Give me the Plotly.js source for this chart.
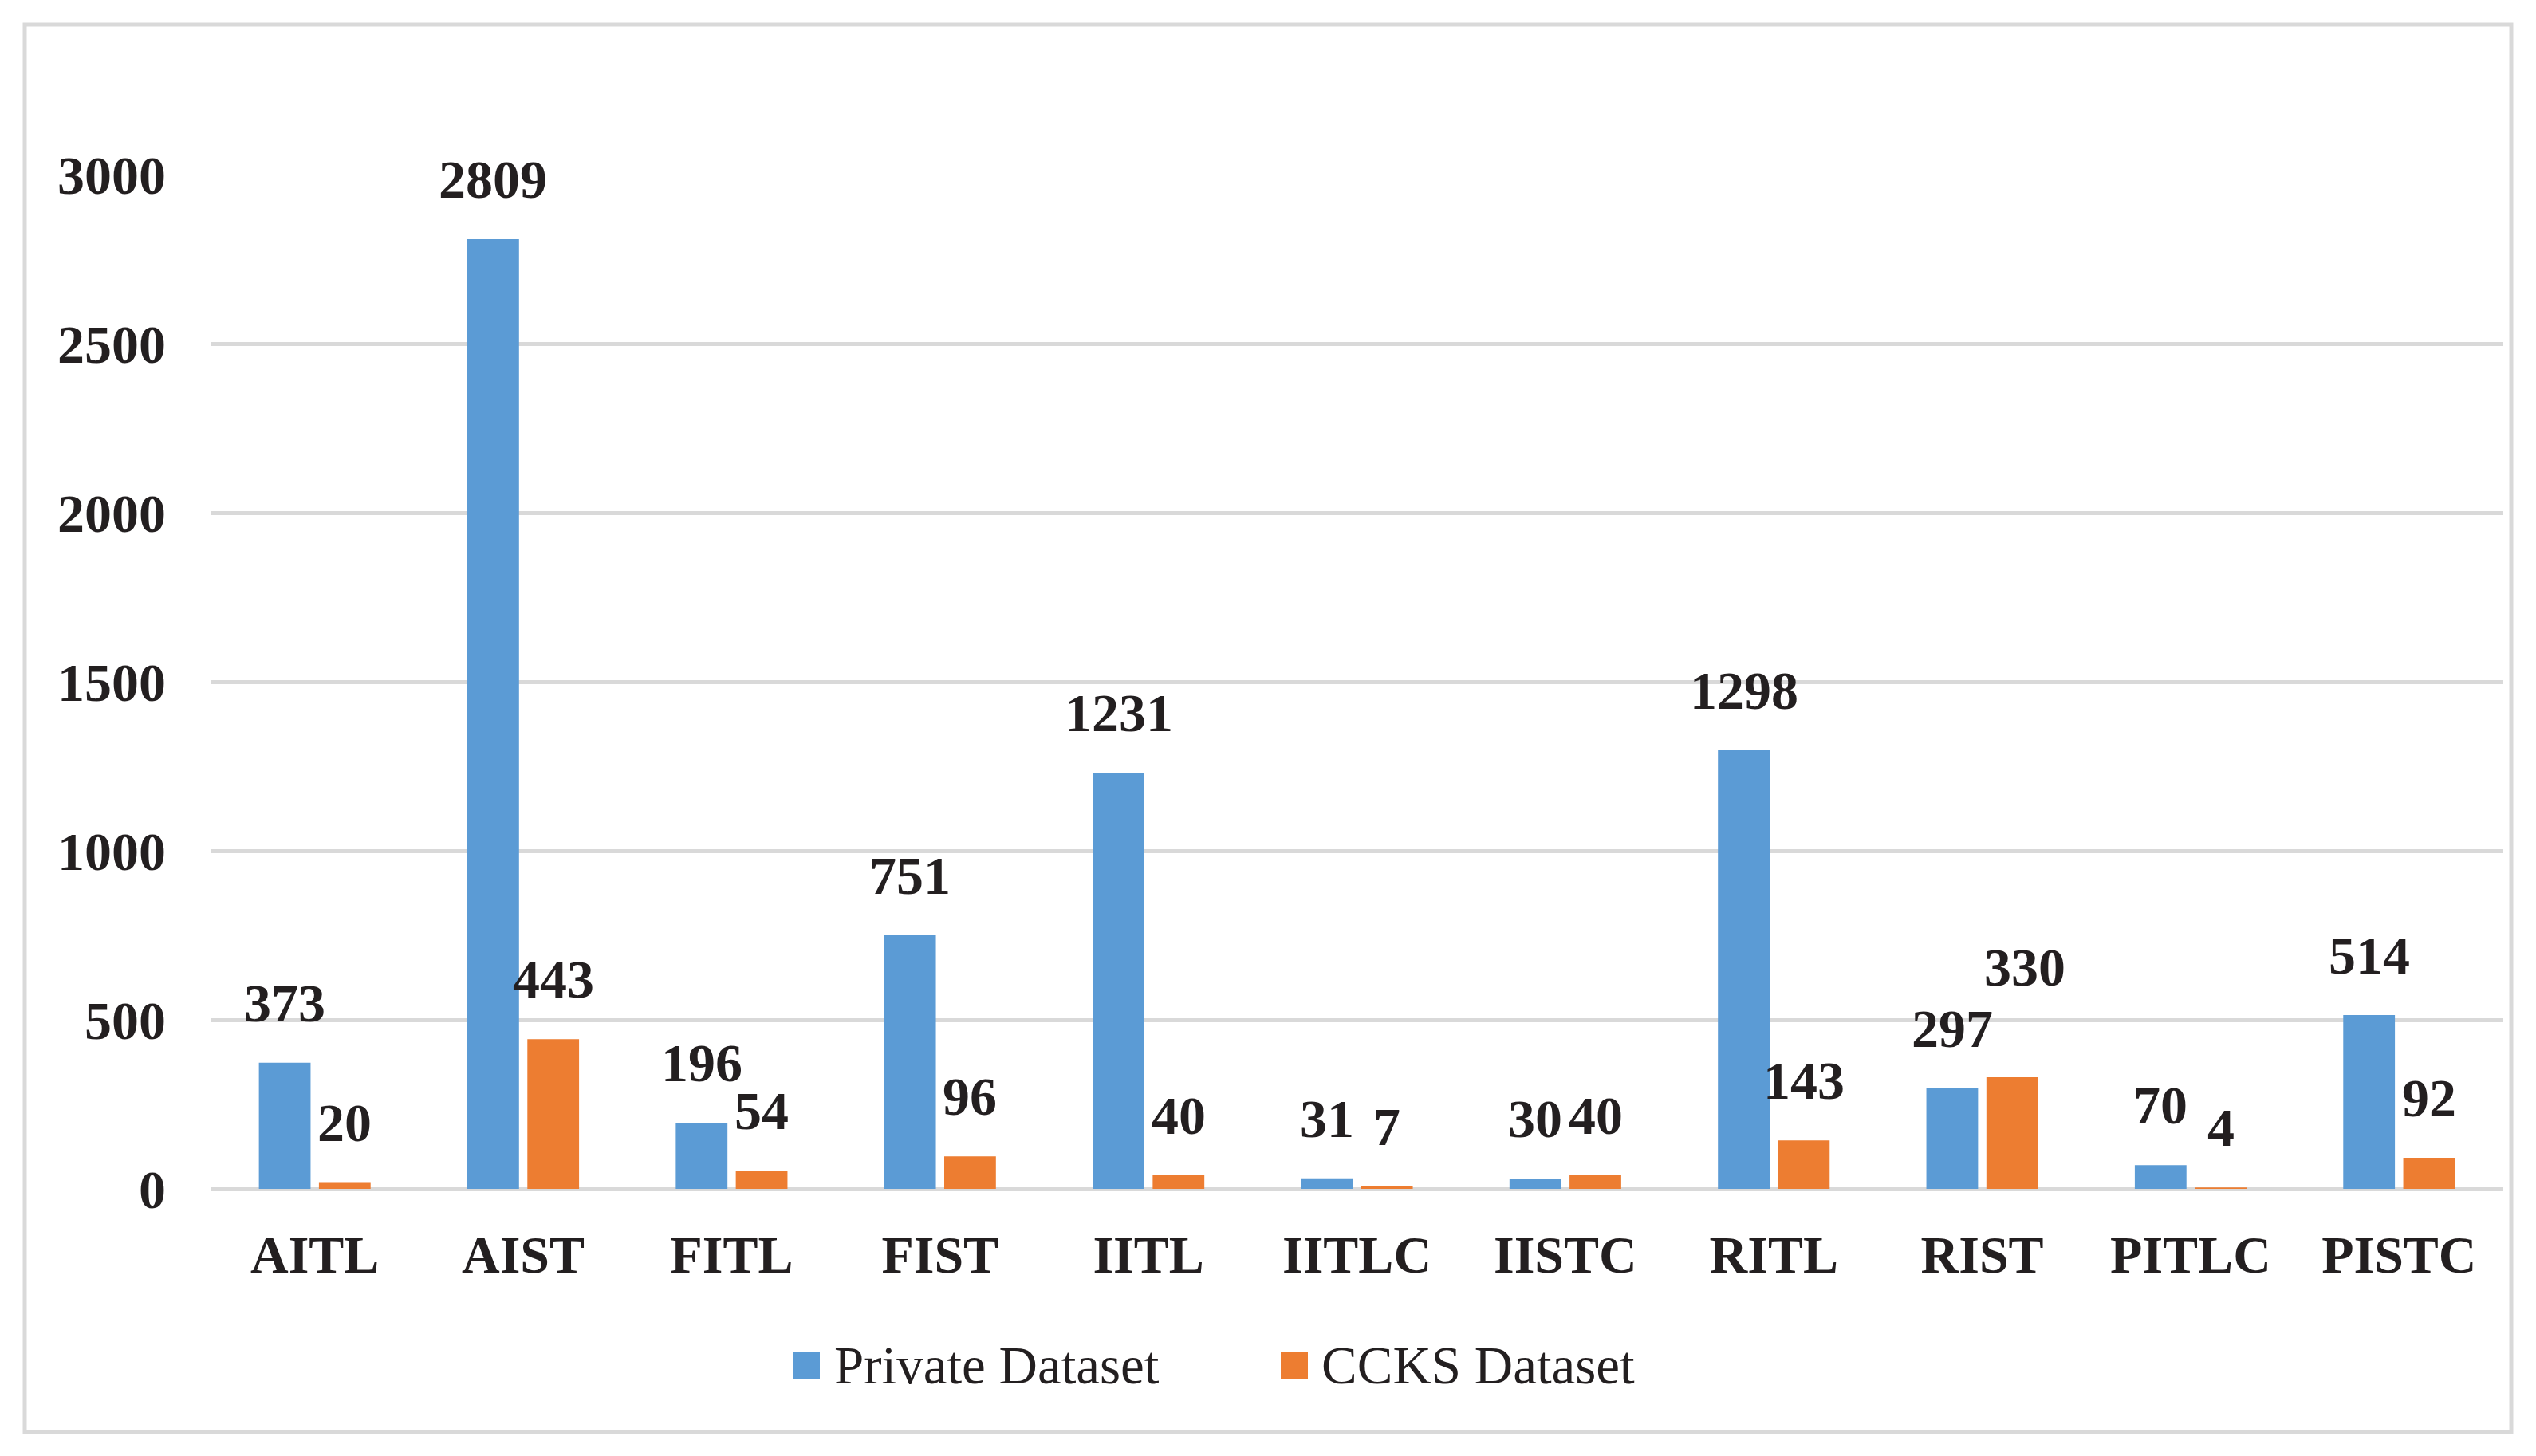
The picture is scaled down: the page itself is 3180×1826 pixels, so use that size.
<!DOCTYPE html>
<html>
<head>
<meta charset="utf-8">
<script src="https://cdn.plot.ly/plotly-3.0.1.min.js"></script>
<style>html,body{margin:0;padding:0;background:#fff;}#chart{width:3180px;height:1826px;}</style>
</head>
<body>
<div id="chart"></div>
<script>
// ---- data ----
var categories = ["AITL", "AIST", "FITL", "FIST", "IITL", "IITLC", "IISTC", "RITL", "RIST", "PITLC", "PISTC"];
var privateDataset = [373, 2809, 196, 751, 1231, 31, 30, 1298, 297, 70, 514];
var ccksDataset = [20, 443, 54, 96, 40, 7, 40, 143, 330, 4, 92];
var seriesNames = ["Private Dataset", "CCKS Dataset"];
var yTicks = [0, 500, 1000, 1500, 2000, 2500, 3000];

// ---- style ----
var BLUE = "#5B9BD5", ORANGE = "#ED7D31", GRID = "#D9D9D9", INK = "#231F20";
var FONT = "'Liberation Serif', 'Times New Roman', serif";
var BARGAP = 0.424, BARGROUPGAP = 0.139;
var slot = (1 - BARGAP) / 2;          // per-bar slot width in category units
var W = 3180, H = 1826;
var M = {l: 264, r: 41, t: 219, b: 335};
var plotW = W - M.l - M.r, plotH = H - M.t - M.b;
function px2paperX(p) { return (p - M.l) / plotW; }
function px2paperY(p) { return (H - M.b - p) / plotH; }

var traces = [
  {type: "bar", name: seriesNames[0], x: categories, y: privateDataset,
   marker: {color: BLUE}, hoverinfo: "x+y"},
  {type: "bar", name: seriesNames[1], x: categories, y: ccksDataset,
   marker: {color: ORANGE}, hoverinfo: "x+y"}
];

// label annotations (positioned by data value through the axes)
var labelFont = {family: FONT, size: 68, color: INK, weight: "bold"};
var specialShift = {"1-8": {dx: 16, dy: 138}};
var annotations = [];
[privateDataset, ccksDataset].forEach(function (arr, s) {
  arr.forEach(function (v, i) {
    var sh = specialShift[s + "-" + i] || {dx: 0, dy: 75};
    annotations.push({
      x: i + (s === 0 ? -slot / 2 : slot / 2), y: v, xref: "x", yref: "y",
      text: "<b>" + v + "</b>", showarrow: false, font: labelFont,
      xanchor: "center", yanchor: "middle", xshift: sh.dx, yshift: sh.dy
    });
  });
});

// legend (drawn manually so the swatch size matches)
var legFont = {family: FONT, size: 67, color: INK};
annotations.push({xref: "paper", yref: "paper", x: px2paperX(1044), y: px2paperY(1712),
  xanchor: "left", yanchor: "middle", text: seriesNames[0], showarrow: false, font: legFont});
annotations.push({xref: "paper", yref: "paper", x: px2paperX(1655), y: px2paperY(1712),
  xanchor: "left", yanchor: "middle", text: seriesNames[1], showarrow: false, font: legFont});

var shapes = [
  // outer chart border
  {type: "rect", xref: "paper", yref: "paper",
   x0: px2paperX(31), x1: px2paperX(3149), y0: px2paperY(31), y1: px2paperY(1796),
   line: {color: GRID, width: 5}, fillcolor: "rgba(0,0,0,0)", layer: "below"},
  {type: "rect", xref: "paper", yref: "paper",
   x0: px2paperX(994), x1: px2paperX(1028), y0: px2paperY(1695), y1: px2paperY(1729),
   line: {width: 0}, fillcolor: BLUE},
  {type: "rect", xref: "paper", yref: "paper",
   x0: px2paperX(1606), x1: px2paperX(1640), y0: px2paperY(1695), y1: px2paperY(1729),
   line: {width: 0}, fillcolor: ORANGE}
];

var layout = {
  width: W, height: H,
  margin: M,
  paper_bgcolor: "#ffffff", plot_bgcolor: "#ffffff",
  barmode: "group", bargap: BARGAP, bargroupgap: BARGROUPGAP,
  showlegend: false,
  font: {family: FONT, color: INK},
  xaxis: {
    type: "category", showgrid: false, zeroline: false, showline: false,
    ticks: "", ticklabelstandoff: 38,
    tickfont: {family: FONT, size: 66, color: INK, weight: "bold"}
  },
  yaxis: {
    range: [0, 3000], tickvals: yTicks, ticktext: yTicks.map(String),
    showgrid: true, gridcolor: GRID, gridwidth: 5,
    zeroline: true, zerolinecolor: GRID, zerolinewidth: 5,
    showline: false, ticks: "", ticklabelstandoff: 55,
    tickfont: {family: FONT, size: 68, color: INK, weight: "bold"}
  },
  annotations: annotations,
  shapes: shapes
};

Plotly.newPlot("chart", traces, layout, {staticPlot: true, displayModeBar: false});
</script>
</body>
</html>
